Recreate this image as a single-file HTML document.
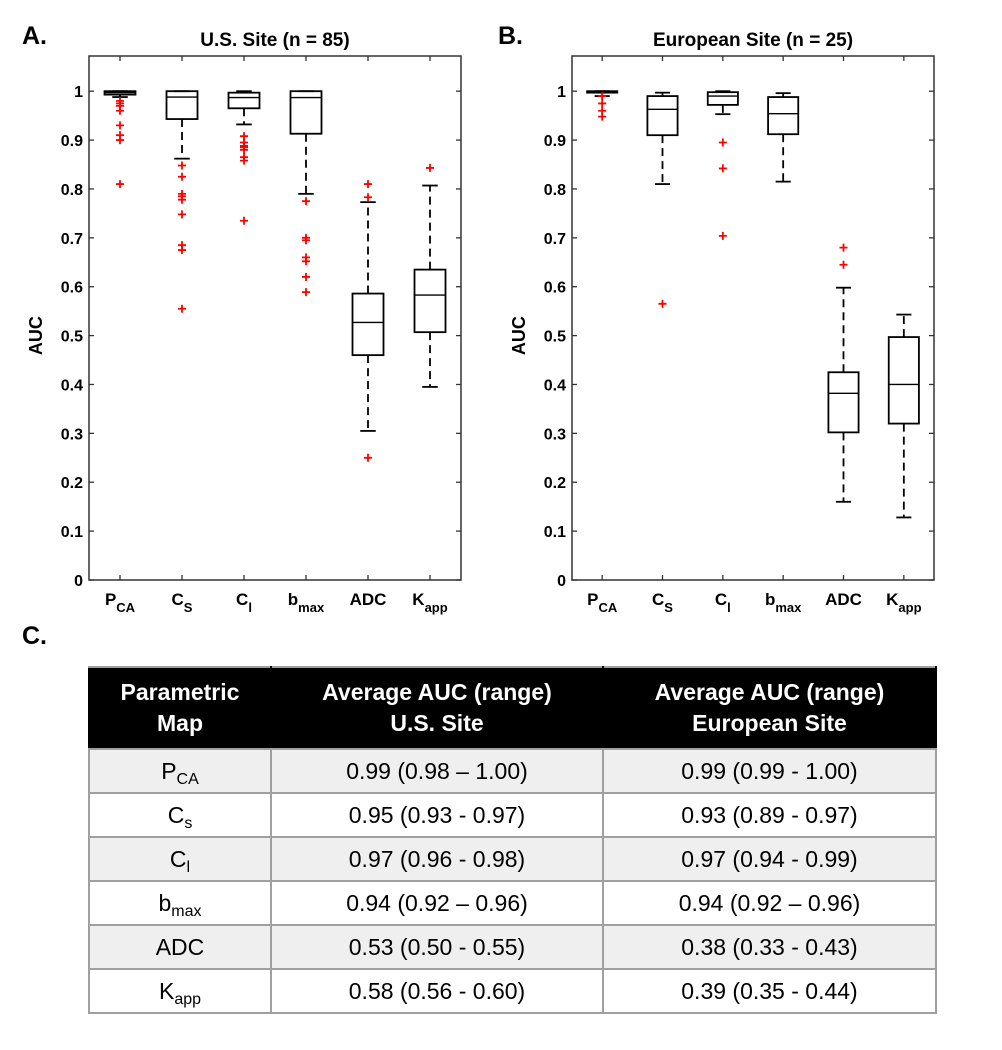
<!DOCTYPE html>
<html><head><meta charset="utf-8">
<style>
body{margin:0;background:#fff;width:1002px;height:1050px;position:relative;font-family:"Liberation Sans",Arial,sans-serif;overflow:hidden}
#charts{position:absolute;left:0;top:0}
.lbl{position:absolute;font-weight:bold;font-size:25px}
table{position:absolute;left:88px;top:666px;width:849px;border-collapse:collapse;font-family:"Liberation Sans",Arial,sans-serif}
td,th{border:2px solid #a0a0a0;text-align:center;padding:0;font-size:23px}
th{background:#000;color:#fff;font-weight:bold;height:80px;line-height:31px;border-left-color:#000;border-right-color:#000}
td{height:42px}
tr.g td{background:#efefef}
sub{font-size:16px;vertical-align:-5px;line-height:0}
</style></head><body>
<div class="lbl" style="left:22px;top:22px">A.</div>
<div class="lbl" style="left:498px;top:22px">B.</div>
<div class="lbl" style="left:22px;top:622px">C.</div>
<svg id="charts" width="1002" height="640"></svg>
<table>
<tr><th style="width:180px">Parametric<br>Map</th><th style="width:330px">Average AUC (range)<br>U.S. Site</th><th>Average AUC (range)<br>European Site</th></tr>
<tr class="g"><td>P<sub>CA</sub></td><td>0.99 (0.98 – 1.00)</td><td>0.99 (0.99 - 1.00)</td></tr>
<tr><td>C<sub>s</sub></td><td>0.95 (0.93 - 0.97)</td><td>0.93 (0.89 - 0.97)</td></tr>
<tr class="g"><td>C<sub>l</sub></td><td>0.97 (0.96 - 0.98)</td><td>0.97 (0.94 - 0.99)</td></tr>
<tr><td>b<sub>max</sub></td><td>0.94 (0.92 – 0.96)</td><td>0.94 (0.92 – 0.96)</td></tr>
<tr class="g"><td>ADC</td><td>0.53 (0.50 - 0.55)</td><td>0.38 (0.33 - 0.43)</td></tr>
<tr><td>K<sub>app</sub></td><td>0.58 (0.56 - 0.60)</td><td>0.39 (0.35 - 0.44)</td></tr>
</table>
<script>
const categories=[["P","CA"],["C","S"],["C","l"],["b","max"],["ADC",""],["K","app"]];
const yTicks=[0,0.1,0.2,0.3,0.4,0.5,0.6,0.7,0.8,0.9,1];
// [whiskerLow, q1, median, q3, whiskerHigh]
const usBoxes=[[0.988,0.993,0.997,1.0,1.0],[0.862,0.943,0.988,1.0,1.0],[0.932,0.965,0.987,0.997,1.0],[0.79,0.913,0.987,1.0,1.0],[0.305,0.46,0.527,0.586,0.773],[0.395,0.507,0.583,0.635,0.807]];
const usOutliers=[[0.98,0.975,0.97,0.96,0.93,0.91,0.9,0.81],[0.848,0.825,0.79,0.785,0.778,0.748,0.685,0.675,0.555],[0.908,0.895,0.888,0.885,0.88,0.865,0.858,0.735],[0.775,0.70,0.695,0.66,0.652,0.62,0.589],[0.81,0.783,0.25],[0.843]];
const euBoxes=[[0.99,0.997,1.0,1.0,1.0],[0.81,0.91,0.963,0.99,0.997],[0.953,0.972,0.99,0.998,1.0],[0.815,0.912,0.954,0.988,0.996],[0.16,0.302,0.382,0.425,0.598],[0.128,0.32,0.4,0.497,0.543]];
const euOutliers=[[0.99,0.975,0.96,0.948],[0.565],[0.895,0.842,0.704],[],[0.68,0.645],[]];
const NS="http://www.w3.org/2000/svg";
const svg=document.getElementById('charts');
function mk(tag,attrs,parent){const e=document.createElementNS(NS,tag);for(const k in attrs)e.setAttribute(k,attrs[k]);(parent||svg).appendChild(e);return e;}
function panel(name,title,left,right,boxes,outs){
  const top=56,bottom=580,yMax=1.072;
  const g=mk('g',{});
  
  
  const y=v=>bottom-v*(bottom-top)/yMax;
  const step=(right-left)/6;
  const x=i=>left+step*(i+0.5);
  const bw=step*0.5;
  const t=mk('text',{x:(left+right)/2,y:46,'text-anchor':'middle','font-size':19,'font-weight':'bold','font-family':'Liberation Sans, sans-serif'},g);
  t.textContent=title;
  
  
  yTicks.forEach(v=>{
    mk('line',{x1:left,x2:left+5,y1:y(v),y2:y(v),stroke:'#333','stroke-width':1.3},g);
    mk('line',{x1:right,x2:right-5,y1:y(v),y2:y(v),stroke:'#333','stroke-width':1.3},g);
    const tl=mk('text',{x:left-6,y:y(v)+6,'text-anchor':'end','font-size':16,'font-weight':'bold','font-family':'Liberation Sans, sans-serif'},g);
    tl.textContent=String(v);
    
    
  });
  const yl=mk('text',{x:0,y:0,'text-anchor':'middle','font-size':18,'font-weight':'bold','font-family':'Liberation Sans, sans-serif',transform:`translate(${left-47},${y(0.5)}) rotate(-90)`},g);
  yl.textContent='AUC';
  
  
  categories.forEach((c,i)=>{
    mk('line',{x1:x(i),x2:x(i),y1:bottom,y2:bottom-5,stroke:'#333','stroke-width':1.3},g);
    mk('line',{x1:x(i),x2:x(i),y1:top,y2:top+5,stroke:'#333','stroke-width':1.3},g);
    const tx=mk('text',{x:x(i),y:bottom+25,'text-anchor':'middle','font-size':17,'font-weight':'bold','font-family':'Liberation Sans, sans-serif'},g);
    
    
    const a=mk('tspan',{},tx);a.textContent=c[0];
    if(c[1]){const b=mk('tspan',{dy:7,'font-size':13},tx);b.textContent=c[1];}
    const [wl,q1,md,q3,wh]=boxes[i];
    const bg=mk('g',{},g);
    
    
    mk('line',{x1:x(i),x2:x(i),y1:y(q3),y2:y(wh),stroke:'#000','stroke-width':1.8,'stroke-dasharray':'8,5'},bg);
    mk('line',{x1:x(i),x2:x(i),y1:y(q1),y2:y(wl),stroke:'#000','stroke-width':1.8,'stroke-dasharray':'8,5'},bg);
    mk('line',{x1:x(i)-bw/4,x2:x(i)+bw/4,y1:y(wh),y2:y(wh),stroke:'#000','stroke-width':1.8},bg);
    mk('line',{x1:x(i)-bw/4,x2:x(i)+bw/4,y1:y(wl),y2:y(wl),stroke:'#000','stroke-width':1.8},bg);
    mk('rect',{x:x(i)-bw/2,y:y(q3),width:bw,height:Math.max(y(q1)-y(q3),0.5),fill:'none',stroke:'#000','stroke-width':1.8},bg);
    mk('line',{x1:x(i)-bw/2,x2:x(i)+bw/2,y1:y(md),y2:y(md),stroke:'#000','stroke-width':1.4},bg);
    outs[i].forEach(v=>{
      const p=mk('path',{d:`M${x(i)-4},${y(v)}h8M${x(i)},${y(v)-4}v8`,stroke:'#f00','stroke-width':1.8},bg);
      
      
    });
  });
  mk('rect',{x:left,y:top,width:right-left,height:bottom-top,fill:'none',stroke:'#333','stroke-width':1.5},g);
}
panel('us-site-boxplot','U.S. Site (n = 85)',89,461,usBoxes,usOutliers);
panel('european-site-boxplot','European Site (n = 25)',572,934,euBoxes,euOutliers);
</script>
</body></html>
